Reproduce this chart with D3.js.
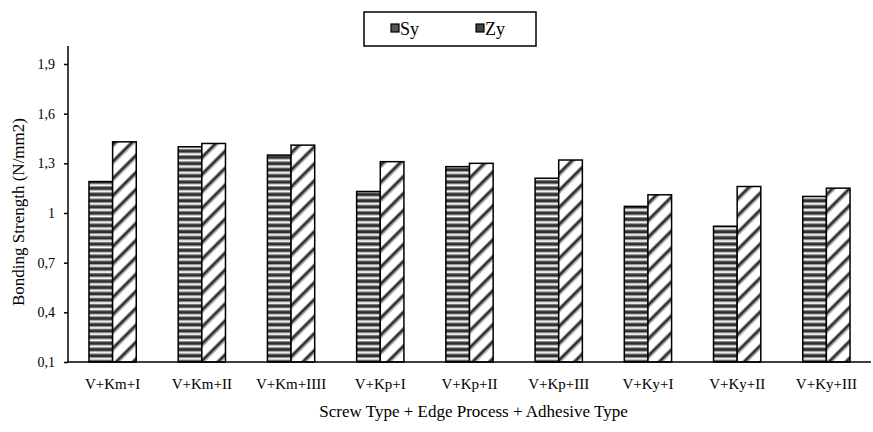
<!DOCTYPE html>
<html><head><meta charset="utf-8">
<script src="https://cdn.jsdelivr.net/npm/d3@7"></script>
<style>body{margin:0;background:#fff}svg{display:block}text{font-family:"Liberation Serif","Times New Roman",serif;fill:#000}</style>
</head><body><svg id="c" width="873" height="432"></svg>
<script>
const categories = ["V+Km+I","V+Km+II","V+Km+IIII","V+Kp+I","V+Kp+II","V+Kp+III","V+Ky+I","V+Ky+II","V+Ky+III"];
const seriesNames = ["Sy","Zy"];
const syValues = [1.19,1.40,1.35,1.13,1.28,1.21,1.04,0.92,1.10];
const zyValues = [1.43,1.42,1.41,1.31,1.30,1.32,1.11,1.16,1.15];
const yTicks = [0.1,0.4,0.7,1.0,1.3,1.6,1.9];
const yTickLabels = ["0,1","0,4","0,7","1","1,3","1,6","1,9"];

const svg = d3.select("#c");
const m = {l:68, r:871, t:46, b:362};
const defs = svg.append("defs");
const ph = defs.append("pattern").attr("id","hstripe").attr("patternUnits","userSpaceOnUse").attr("width",8).attr("height",6.2);
ph.append("rect").attr("width",8).attr("height",6.2).attr("fill","#fff");
ph.append("rect").attr("y",0).attr("width",8).attr("height",1).attr("fill","#888");
ph.append("rect").attr("y",1).attr("width",8).attr("height",2.6).attr("fill","#2e2e2e");
ph.append("rect").attr("y",3.6).attr("width",8).attr("height",1).attr("fill","#888");
ph.append("rect").attr("y",4.6).attr("width",8).attr("height",0.8).attr("fill","#d8d8d8");
const pd = defs.append("pattern").attr("id","diag").attr("patternUnits","userSpaceOnUse").attr("width",12).attr("height",12).attr("patternTransform","rotate(45)");
pd.append("rect").attr("width",12).attr("height",12).attr("fill","#fff");
pd.append("rect").attr("x",0).attr("width",1).attr("height",12).attr("fill","#999");
pd.append("rect").attr("x",1).attr("width",2.6).attr("height",12).attr("fill","#2e2e2e");
pd.append("rect").attr("x",3.6).attr("width",1).attr("height",12).attr("fill","#999");
const fills = ["url(#hstripe)","url(#diag)"];

const x0 = d3.scaleBand().domain(categories).range([m.l, m.r]).paddingInner(0.47).paddingOuter(0.235);
const x1 = d3.scaleBand().domain(seriesNames).range([0, x0.bandwidth()]);
const y = d3.scaleLinear().domain([0.1, 1.9]).range([m.b, 64]);

const data = categories.map((c,i)=>({c, vals:[syValues[i], zyValues[i]]}));
const g = svg.append("g");
data.forEach(d=>{
  d.vals.forEach((v,j)=>{
    g.append("rect")
      .attr("x", x0(d.c)+x1(seriesNames[j]))
      .attr("y", y(v))
      .attr("width", x1.bandwidth())
      .attr("height", y(0.1)-y(v))
      .attr("fill", fills[j])
      .attr("stroke","#000").attr("stroke-width",1.5);
  });
});

// y axis
const ya = svg.append("g").attr("transform",`translate(${m.l},0)`)
  .call(d3.axisLeft(y).tickValues(yTicks).tickFormat((d,i)=>yTickLabels[i]).tickSize(4).tickSizeOuter(0));
ya.select(".domain").remove();
ya.append("line").attr("x1",0).attr("x2",0).attr("y1",m.t).attr("y2",m.b).attr("stroke","#000").attr("stroke-width",1.5);
ya.selectAll(".tick line").attr("stroke","#000").attr("stroke-width",1.5);
ya.selectAll(".tick text").attr("font-size",14).attr("x",-13).style("font-family","Liberation Serif");

// x axis
const xa = svg.append("g").attr("transform",`translate(0,${m.b})`)
  .call(d3.axisBottom(x0).tickSize(0).tickSizeOuter(0));
xa.select(".domain").remove();
xa.append("line").attr("x1",m.l).attr("x2",m.r).attr("y1",0).attr("y2",0).attr("stroke","#000").attr("stroke-width",1.5);
xa.selectAll(".tick text").attr("font-size",15).attr("y",16).style("font-family","Liberation Serif");

// titles
svg.append("text").attr("x",(m.l+m.r)/2+4).attr("y",417).attr("text-anchor","middle").attr("font-size",17).text("Screw Type + Edge Process + Adhesive Type");
svg.append("text").attr("transform","translate(24,212) rotate(-90)").attr("text-anchor","middle").attr("font-size",17).text("Bonding Strength (N/mm2)");

// legend
const lg = svg.append("g");
lg.append("rect").attr("x",364).attr("y",12).attr("width",172).attr("height",34).attr("fill","#fff").attr("stroke","#000").attr("stroke-width",1.5);
const lx = [400, 485];
seriesNames.forEach((s,j)=>{
  lg.append("rect").attr("x",lx[j]-9).attr("y",24).attr("width",8).attr("height",8).attr("fill", j===0?"#555":"#444").attr("stroke","#000").attr("stroke-width",1.2);
  lg.append("text").attr("x",lx[j]).attr("y",35).attr("font-size",18).text(s);
});
</script></body></html>
